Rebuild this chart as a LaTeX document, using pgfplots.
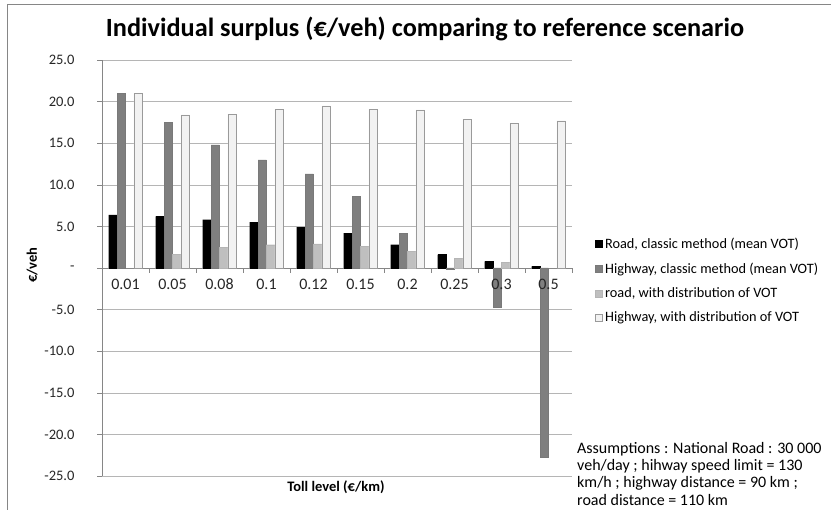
\documentclass[border=0pt]{standalone}
\usepackage{fontspec}
\setmainfont{Carlito}
\usepackage{pgfplots}
\usepackage{pgfplotstable}
\pgfplotsset{compat=1.18}

\definecolor{barA}{HTML}{000000}
\definecolor{barB}{HTML}{7F7F7F}
\definecolor{barC}{HTML}{BFBFBF}
\definecolor{barD}{HTML}{F2F2F2}
\definecolor{edgeD}{HTML}{9A9A9A}
\definecolor{gridc}{HTML}{B5B5B5}
\definecolor{axisc}{HTML}{868686}

% shared geometry of the plot area
\pgfplotsset{
  surplus frame/.style={
    at={(102bp,34bp)}, anchor=south west,
    scale only axis, width=470bp, height=416bp,
    xmin=-0.5, xmax=9.5, ymin=-25, ymax=25,
    axis x line*=middle, axis y line*=left,
    clip=false,
  },
}

% Individual surplus per toll level (euro/veh)
% x: category index (toll levels 0.01 ... 0.5 euro/km)
\pgfplotstableread{
x  road  hwy    roaddist  hwydist
0  6.4   21.0   nan       21.0
1  6.2   17.5   1.6       18.4
2  5.8   14.8   2.5       18.5
3  5.5   13.0   2.8       19.1
4  4.9   11.3   2.9       19.5
5  4.2   8.6    2.6       19.1
6  2.8   4.2    2.0       19.0
7  1.6   -0.2   1.2       17.9
8  0.8   -4.7   0.7       17.4
9  0.2   -22.7  nan       17.7
}\surplus

\begin{document}
\begin{tikzpicture}
\path[use as bounding box] (0,0) rectangle (831bp,510bp);
\draw[axisc] (7bp,0) -- (7bp,506bp) -- (831bp,506bp);

\begin{axis}[
  surplus frame,
  axis line style={axisc},
  ybar=0pt, bar width=8.4bp,
  xtick={0,...,9},
  xticklabels={},
  minor xtick={-0.5,0.5,...,9.5},
  x tick style={draw=none},
  minor x tick style={draw=axisc},
  minor tick length=5bp,
  ytick={-25,-20,...,25},
  yticklabels={-25.0,-20.0,-15.0,-10.0,-5.0,{-\hspace{7bp}},5.0,10.0,15.0,20.0,25.0},
  yticklabel style={font=\fontsize{14.5bp}{16bp}\selectfont, text=black!85, xshift=-19bp},
  y tick style={draw=axisc},
  major tick length=5bp,
  tick align=outside,
  ymajorgrids, grid style={gridc},
  legend style={draw=none, fill=none, at={(1.049,0.47)}, anchor=west,
    font=\fontsize{14.3bp}{16bp}\selectfont, legend cell align=left,
    row sep=8bp, inner sep=0pt,
    nodes={inner sep=2.5bp}},
  legend image code/.code={\draw[#1] (0bp,-3.5bp) rectangle (7bp,3.5bp);},
]
\addplot[fill=barA, draw=black] table[x=x, y=road] {\surplus};
\addplot[fill=barB, draw=barB!95!black] table[x=x, y=hwy] {\surplus};
\addplot[fill=barC, draw=barC!95!black] table[x=x, y=roaddist] {\surplus};
\addplot[fill=barD, draw=edgeD] table[x=x, y=hwydist] {\surplus};
\legend{{Road, classic method (mean VOT)},
        {Highway, classic method (mean VOT)},
        {road, with distribution of VOT},
        {Highway, with distribution of VOT}}
\end{axis}

% category labels along the zero line, set over the bars
\begin{axis}[
  surplus frame,
  axis line style={draw=none},
  ytick=\empty,
  xtick={0,...,9},
  xticklabels={0.01,0.05,0.08,0.1,0.12,0.15,0.2,0.25,0.3,0.5},
  x tick style={draw=none},
  major tick length=5bp,
  tick align=outside,
  xticklabel style={font=\fontsize{16bp}{18bp}\selectfont, text=black!85,
    text height=11bp, text depth=0pt, yshift=-2bp},
]
\end{axis}

\node[anchor=base, font=\bfseries\fontsize{26.3bp}{30bp}\selectfont] at (425bp,473bp)
  {Individual surplus (€/veh) comparing to reference scenario};
\node[rotate=90, font=\bfseries\fontsize{14.5bp}{16bp}\selectfont] at (32bp,245bp) {€/veh};
\node[font=\bfseries\fontsize{14.5bp}{16bp}\selectfont] at (336bp,23bp) {Toll level (€/km)};
\node[anchor=north west, align=left, inner sep=0pt,
      font=\fontsize{16bp}{17.3bp}\selectfont] at (577bp,68bp)
  {Assumptions : National Road : 30 000\\
   veh/day ; hihway speed limit = 130\\
   km/h ; highway distance = 90 km ;\\
   road distance = 110 km};
\end{tikzpicture}
\end{document}
